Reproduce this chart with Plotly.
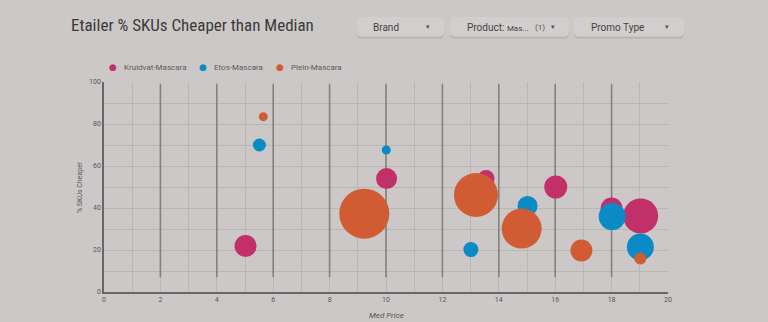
import plotly.graph_objects as go

# ---------------- data ----------------
series_names = ["Kruidvat-Mascara", "Etos-Mascara", "Plein-Mascara"]
series_colors = ["#c2306a", "#0a8bc6", "#d15c34"]

kruidvat_x = [5.02, 10.02, 13.55, 16.02, 18.0, 19.03]
kruidvat_y = [21.9, 54.0, 54.1, 50.0, 39.8, 36.2]
kruidvat_s = [22, 21, 17, 23, 22, 35]

etos_x = [5.51, 10.01, 13.01, 15.02, 18.02, 19.02]
etos_y = [70.0, 67.6, 20.2, 41.0, 35.9, 21.4]
etos_s = [13, 9, 15, 20, 27, 27]

plein_x = [5.65, 9.23, 13.19, 14.81, 16.93, 19.02]
plein_y = [83.5, 37.3, 46.2, 30.2, 19.8, 15.9]
plein_s = [9, 50, 44, 40, 22, 12]

ref_line_x = [2, 4, 6, 8, 10, 12, 14, 16, 18]
ref_line_y0 = 7
ref_line_y1 = 99

x_ticks = [0, 2, 4, 6, 8, 10, 12, 14, 16, 18, 20]
y_ticks = [0, 20, 40, 60, 80, 100]

title_text = "Etailer % SKUs Cheaper than Median"
x_title = "Med Price"
y_title = "% SKUs Cheaper"

# ---------------- layout geometry ----------------
W, H = 768, 322
ML, MR, MT, MB = 104, 100, 82, 30
PW = W - ML - MR
PH = H - MT - MB
BG = "#ccc8c7"
FONT = "Roboto"


def px(xp):
    return (xp - ML) / PW


def py(yp):
    return (H - MB - yp) / PH


fig = go.Figure()
for name, color, xs, ys, ss in [
    (series_names[0], series_colors[0], kruidvat_x, kruidvat_y, kruidvat_s),
    (series_names[1], series_colors[1], etos_x, etos_y, etos_s),
    (series_names[2], series_colors[2], plein_x, plein_y, plein_s),
]:
    fig.add_trace(go.Scatter(
        x=xs, y=ys, mode="markers", name=name, showlegend=False,
        marker=dict(size=ss, sizemode="diameter", color=color,
                    line=dict(width=0), opacity=1),
        cliponaxis=False,
    ))

shapes = []
for xv in ref_line_x:
    shapes.append(dict(type="line", xref="x", yref="y", x0=xv, x1=xv,
                       y0=ref_line_y0, y1=ref_line_y1,
                       line=dict(color="#838080", width=1.6), layer="between"))


def rrect(x0, y0, x1, y1, r, fill):
    def P(a, b):
        return f"{px(a):.5f},{py(b):.5f}"
    path = (f"M {P(x0 + r, y0)} L {P(x1 - r, y0)} Q {P(x1, y0)} {P(x1, y0 + r)} "
            f"L {P(x1, y1 - r)} Q {P(x1, y1)} {P(x1 - r, y1)} "
            f"L {P(x0 + r, y1)} Q {P(x0, y1)} {P(x0, y1 - r)} "
            f"L {P(x0, y0 + r)} Q {P(x0, y0)} {P(x0 + r, y0)} Z")
    return dict(type="path", xref="paper", yref="paper", path=path,
                fillcolor=fill, line=dict(width=0), layer="above")


buttons = [(357, 444), (450, 569), (574, 684)]
for (a, b) in buttons:
    shapes.append(rrect(a, 18.5, b, 38.5, 5, "#b3afae"))
    shapes.append(rrect(a, 17.5, b, 37.5, 5, "#bfbbba"))
    shapes.append(rrect(a, 17, b, 36.5, 5, "#d2cecd"))

annotations = [
    dict(text=title_text, xref="paper", yref="paper", x=px(69), y=py(25),
         xanchor="left", yanchor="middle", showarrow=False,
         font=dict(family="Roboto Condensed, " + FONT, size=17, color="#3a3a3a")),
    dict(text="Brand", xref="paper", yref="paper", x=px(371), y=py(27),
         xanchor="left", yanchor="middle", showarrow=False,
         font=dict(family=FONT, size=10, color="#444444")),
    dict(text="▾", xref="paper", yref="paper", x=px(428), y=py(27),
         xanchor="center", yanchor="middle", showarrow=False,
         font=dict(family=FONT, size=7, color="#555555")),
    dict(text="Product: <span style='font-size:8px'>Mas...</span>", xref="paper", yref="paper",
         x=px(465), y=py(27), xanchor="left", yanchor="middle", showarrow=False,
         font=dict(family=FONT, size=10, color="#444444")),
    dict(text="(1)", xref="paper", yref="paper", x=px(540), y=py(27),
         xanchor="center", yanchor="middle", showarrow=False,
         font=dict(family=FONT, size=8, color="#555555")),
    dict(text="▾", xref="paper", yref="paper", x=px(553), y=py(27),
         xanchor="center", yanchor="middle", showarrow=False,
         font=dict(family=FONT, size=7, color="#555555")),
    dict(text="Promo Type", xref="paper", yref="paper", x=px(589), y=py(27),
         xanchor="left", yanchor="middle", showarrow=False,
         font=dict(family=FONT, size=10, color="#444444")),
    dict(text="▾", xref="paper", yref="paper", x=px(667), y=py(27),
         xanchor="center", yanchor="middle", showarrow=False,
         font=dict(family=FONT, size=7, color="#555555")),
    dict(text=y_title, xref="paper", yref="paper", x=px(80), y=py(187),
         xanchor="center", yanchor="middle", showarrow=False, textangle=-90,
         font=dict(family=FONT, size=7, color="#5a5a5a")),
    dict(text="<i>" + x_title + "</i>", xref="paper", yref="paper", x=px(386), y=py(315),
         xanchor="center", yanchor="middle", showarrow=False,
         font=dict(family=FONT, size=8, color="#555555")),
]

# custom compact legend
legend_dot_x = [113, 203, 280]
for name, color, lx in zip(series_names, series_colors, legend_dot_x):
    annotations.append(dict(text="●", xref="paper", yref="paper", x=px(lx), y=py(66.5),
                            xanchor="center", yanchor="middle", showarrow=False,
                            font=dict(family="DejaVu Sans", size=9, color=color)))
    annotations.append(dict(text=name, xref="paper", yref="paper", x=px(lx + 9), y=py(67),
                            xanchor="left", yanchor="middle", showarrow=False,
                            font=dict(family=FONT, size=8, color="#5a5a5a")))

fig.update_layout(
    width=W, height=H,
    margin=dict(l=ML, r=MR, t=MT, b=MB, pad=0),
    paper_bgcolor=BG, plot_bgcolor=BG,
    font=dict(family=FONT, size=8, color="#555555"),
    showlegend=False,
    xaxis=dict(range=[0, 20], tickvals=x_ticks, ticktext=[str(v) for v in x_ticks],
               showgrid=True, gridcolor="#bab6b5", gridwidth=1,
               minor=dict(dtick=1, showgrid=True, gridcolor="#bab6b5", gridwidth=1),
               showline=True, linecolor="#6a6665", linewidth=1.5,
               zeroline=False, ticks="", tickfont=dict(size=7, color="#555555"),
               fixedrange=True),
    yaxis=dict(range=[0, 100], tickvals=y_ticks, ticktext=[str(v) for v in y_ticks],
               showgrid=True, gridcolor="#bab6b5", gridwidth=1,
               minor=dict(dtick=10, showgrid=True, gridcolor="#bab6b5", gridwidth=1),
               showline=True, linecolor="#6a6665", linewidth=1.5,
               zeroline=False, ticks="", tickfont=dict(size=7, color="#555555"),
               fixedrange=True),
    shapes=shapes,
    annotations=annotations,
)

fig.write_html("out.html", config=dict(displayModeBar=False))
